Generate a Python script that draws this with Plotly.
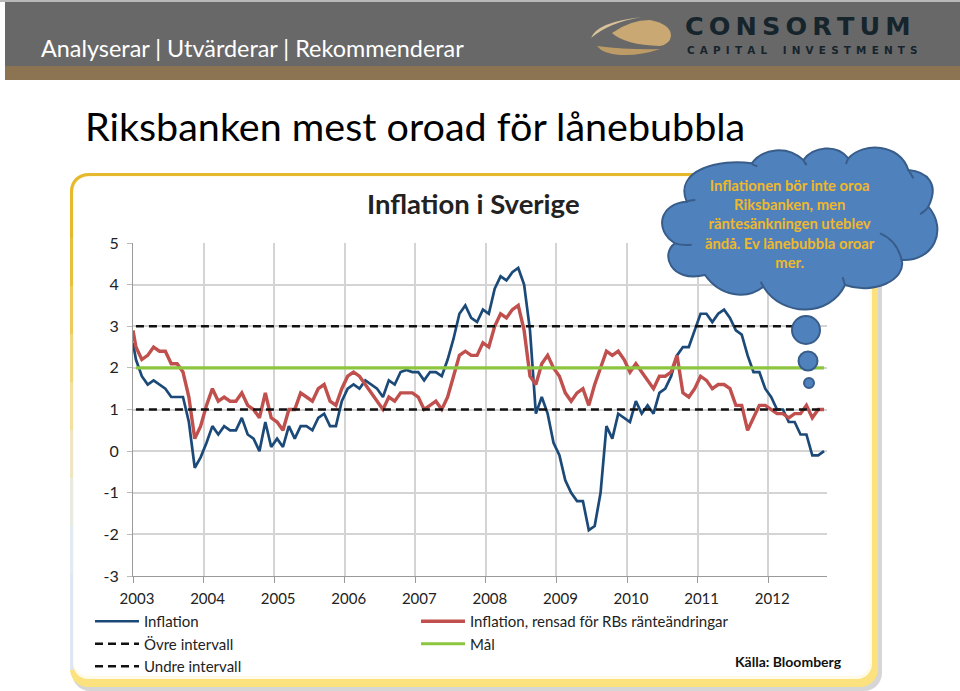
import plotly.graph_objects as go

W, H = 960, 691
month_index = [0] + [k + 0.5 for k in range(118)]
inflation = [2.6,
 2.2,1.8,1.6,1.7,1.6,1.5,1.3,1.3,1.3,.7,
 -.4,-.15,.2,.6,.4,.6,.5,.5,.8,.4,
 .3,0,.7,.1,.3,.1,.6,.3,.6,.6,
 .5,.8,.9,.6,.6,1.2,1.5,1.6,1.5,1.7,
 1.6,1.5,1.3,1.7,1.6,1.9,1.95,1.9,1.9,1.7,
 1.9,1.9,1.8,2.2,2.7,3.3,3.5,3.2,3.1,3.4,
 3.3,3.9,4.2,4.1,4.3,4.4,4.0,2.9,.9,1.3,
 .9,.2,-.1,-.7,-1.0,-1.2,-1.2,-1.9,-1.8,-1.0,
 .6,.3,.9,.8,.7,1.2,.9,1.1,.9,1.4,
 1.5,1.8,2.3,2.5,2.5,2.9,3.3,3.3,3.1,3.3,
 3.4,3.2,2.9,2.8,2.3,1.9,1.9,1.5,1.3,1.0,
 1.0,.7,.7,.4,.4,-.1,-.1,0]
inflation_rb = [2.9,
 2.5,2.2,2.3,2.5,2.4,2.4,2.1,2.1,1.9,1.3,
 .3,.6,1.1,1.5,1.2,1.3,1.2,1.2,1.4,1.1,
 1.0,.8,1.4,.8,.7,.5,1.0,1.0,1.4,1.3,
 1.2,1.5,1.6,1.2,1.1,1.5,1.8,1.9,1.8,1.6,
 1.4,1.2,1.0,1.3,1.2,1.4,1.4,1.4,1.3,1.0,
 1.1,1.2,1.0,1.3,1.8,2.3,2.4,2.3,2.3,2.6,
 2.5,3.0,3.3,3.2,3.4,3.5,2.9,1.8,1.6,2.1,
 2.3,2.0,1.8,1.4,1.2,1.4,1.5,1.1,1.6,2.0,
 2.4,2.3,2.4,2.2,1.9,2.1,1.9,1.7,1.5,1.8,
 1.8,1.9,2.3,1.4,1.3,1.5,1.8,1.7,1.5,1.6,
 1.6,1.5,1.1,1.1,.5,.8,1.1,1.1,1.0,.9,
 .9,.8,.9,.9,1.1,.8,1.0,1.0]
upper = [3] * 118
target = [2] * 118
lower = [1] * 118
year_labels = ["2003","2004","2005","2006","2007","2008","2009","2010","2011","2012"]
year_ticks = [12 * i for i in range(11)]
y_ticks = [-3,-2,-1,0,1,2,3,4,5]
y_labels = ["-3","-2","-1","0","1","2","3","4","5"]

FONT = "Lato"
def px(x): return x / W
def py(y): return 1 - y / H
def P(x, y): return f"{px(x):.5f},{py(y):.5f}"

def rrect(x0, y0, x1, y1, r):
    k = r * 0.45
    return (f"M{P(x0+r,y0)} L{P(x1-r,y0)} C{P(x1-k,y0)} {P(x1,y0+k)} {P(x1,y0+r)} "
            f"L{P(x1,y1-r)} C{P(x1,y1-k)} {P(x1-k,y1)} {P(x1-r,y1)} L{P(x0+r,y1)} "
            f"C{P(x0+k,y1)} {P(x0,y1-k)} {P(x0,y1-r)} L{P(x0,y0+r)} C{P(x0,y0+k)} {P(x0+k,y0)} {P(x0+r,y0)} Z")

shapes = []
def rect(x0, y0, x1, y1, color, layer="below"):
    shapes.append(dict(type="rect", xref="paper", yref="paper", x0=px(x0), x1=px(x1), y0=py(y0), y1=py(y1),
                       fillcolor=color, line=dict(width=0), layer=layer))
def path(d, fill=None, line=None, width=0, layer="below"):
    shapes.append(dict(type="path", xref="paper", yref="paper", path=d, fillcolor=fill or "rgba(0,0,0,0)",
                       line=dict(color=line or "rgba(0,0,0,0)", width=width), layer=layer))
def circle(cx, cy, r, fill, line, width, layer="above"):
    shapes.append(dict(type="circle", xref="paper", yref="paper", x0=px(cx-r), x1=px(cx+r), y0=py(cy+r), y1=py(cy-r),
                       fillcolor=fill, line=dict(color=line, width=width), layer=layer))

# header band
rect(0, 0, 960, 2, "#b9b9b9")
rect(5, 2, 960, 66, "#686868")
rect(5, 66, 960, 80, "#8c7352")
# logo
path(f"M{P(591,38)} Q{P(597,22)} {P(642,17)} Q{P(610,22)} {P(591,38)} Z", "#d9c39a")
path(f"M{P(612,33)} Q{P(630,20)} {P(650,20)} Q{P(671,24)} {P(671,36)} Q{P(670,44)} {P(660,46)} Q{P(625,45)} {P(612,33)} Z", "#c9a873")
path(f"M{P(597,46)} Q{P(630,50)} {P(660,49)} Q{P(640,56)} {P(620,55)} Q{P(603,54)} {P(597,46)} Z", "#bd9b67")

# card
path(rrect(72, 176, 882, 691, 18), "#d6d6d6")
path(rrect(70, 173, 878, 687, 18), "#fbe27e")
path(rrect(73, 176, 872, 679, 15), "#fffbe6")
path(rrect(74, 177, 870, 676, 14), "#ffffff")
for i, c in enumerate(["#e6b82e","#e8c040","#ecca5c","#f0d67e","#f2e09e","#eee6c0","#e8ebe0","#e2eaf3","#dde7f3","#dde7f3"]):
    y0 = 190 + i * 48
    path(f"M{P(71.5,y0)} L{P(71.5,y0+48)}", None, c, 3)
path(f"M{P(71.5,192)} C{P(71.5,181)} {P(79,174.5)} {P(90,174.5)} L{P(700,174.5)}", None, "#e6b82e", 3)

def cloud_pt(zx, zy): return P(640 + zx / 3, 140 + zy / 3)
cloud = [(140,185),
 ((60,190),(40,270),(105,310)),
 ((60,340),(90,430),(195,405)),
 ((240,470),(320,480),(370,440)),
 ((430,535),(570,530),(615,435)),
 ((700,465),(800,420),(785,360)),
 ((880,365),(925,270),(865,200)),
 ((900,130),(860,95),(805,90)),
 ((780,10),(670,5),(625,55)),
 ((590,10),(520,20),(490,60)),
 ((440,15),(370,25),(335,70)),
 ((240,55),(100,90),(140,185))]
d = "M" + cloud_pt(*cloud[0])
for a, b, c in cloud[1:]:
    d += f" C{cloud_pt(*a)} {cloud_pt(*b)} {cloud_pt(*c)}"
path(d + " Z", "#4f81bd", "#385d8a", 2, "above")
for a, b, c in [((105,310),(130,318),(155,314)), ((140,185),(145,182),(166,180)),
                ((865,200),(858,212),(840,222)), ((720,280),(770,300),(785,360)),
                ((335,70),(345,80),(352,78)), ((490,60),(495,70),(500,75)), ((625,55),(620,65),(618,72)),
                ((805,90),(815,105),(820,115)), ((370,440),(365,430),(362,425)), ((615,435),(610,420),(608,412))]:
    path(f"M{cloud_pt(*a)} Q{cloud_pt(*b)} {cloud_pt(*c)}", None, "#385d8a", 2, "above")
circle(806, 330, 14, "#4f81bd", "#385d8a", 2)
circle(808, 361, 9.5, "#4f81bd", "#385d8a", 2)
circle(809, 383, 5, "#4f81bd", "#385d8a", 2)

BLUE, RED, GREEN = "#1c4a78", "#c0504d", "#8cc63f"
fig = go.Figure()
fig.add_trace(go.Scatter(x=month_index, y=inflation, mode="lines", name="Inflation", line=dict(color=BLUE, width=2.7)))
fig.add_trace(go.Scatter(x=month_index, y=inflation_rb, mode="lines", name="Inflation, rensad för RBs ränteändringar", line=dict(color=RED, width=3.4)))
fig.add_trace(go.Scatter(x=month_index[1:], y=upper, mode="lines", name="Övre intervall", line=dict(color="#111111", width=2.4, dash="8px 5px")))
fig.add_trace(go.Scatter(x=month_index[1:], y=target, mode="lines", name="Mål", line=dict(color=GREEN, width=3.2)))
fig.add_trace(go.Scatter(x=month_index[1:], y=lower, mode="lines", name="Undre intervall", line=dict(color="#111111", width=2.4, dash="8px 5px")))

def text(x, y, s, size, color="#000000", anchor="left", bold=False, family=FONT):
    fig.add_annotation(xref="paper", yref="paper", x=px(x), y=py(y), text=f"<b>{s}</b>" if bold else s, showarrow=False,
                       xanchor=anchor, yanchor="middle", align="center" if anchor == "center" else "left",
                       font=dict(family=family, size=size, color=color))

text(39, 48, "Analyserar | Utvärderar | Rekommenderar", 23.4, "#ffffff")
text(83, 125, "Riksbanken mest oroad för lånebubbla", 39.5, "#000000")
text(473, 204, "Inflation i Sverige", 27.5, "#222222", "center", True)
text(790, 224, "Inflationen bör inte oroa<br>Riksbanken, men<br>räntesänkningen uteblev<br>ändå. Ev lånebubbla oroar<br>mer.", 14.8, "#efb82a", "center", True)
text(844, 661, "Källa: Bloomberg", 14, "#111111", "right", True)
text(683, 26, "\u2009".join("CONSORTUM"), 25.5, "#16242c", bold=True, family="DejaVu Sans")
text(685, 50, "\u2002".join("CAPITAL") + "\u2002\u2002\u2002" + "\u2002".join("INVESTMENTS"), 10.4, "#16242c", bold=True, family="DejaVu Sans")

fig.update_layout(
    width=W, height=H, autosize=False, margin=dict(l=0, r=0, t=0, b=0, autoexpand=False),
    paper_bgcolor="#ffffff", plot_bgcolor="rgba(0,0,0,0)", shapes=shapes, showlegend=True,
    font=dict(family=FONT, color="#222222"),
    legend=dict(orientation="h", x=px(90), y=py(605), xanchor="left", yanchor="top", entrywidth=267, entrywidthmode="pixels",
                itemwidth=44, font=dict(family=FONT, size=15, color="#222222"), bgcolor="rgba(0,0,0,0)", tracegroupgap=0),
    xaxis=dict(domain=[px(133), px(827)], range=[0, 118], tickmode="array", tickvals=year_ticks,
               ticktext=year_labels + [""], showgrid=True, gridcolor="#d4d4d4", gridwidth=1.5, ticks="outside", ticklen=6,
               tickcolor="#999999", showline=True, linecolor="#9a9a9a", anchor="y", zeroline=False,
               tickfont=dict(size=15, color="#222222"), ticklabelshift=4, ticklabelstandoff=3, fixedrange=True),
    yaxis=dict(domain=[py(576), py(243)], range=[-3, 5], tickmode="array", tickvals=y_ticks, ticktext=y_labels,
               showgrid=True, gridcolor="#d4d4d4", gridwidth=1.5, ticks="outside", ticklen=5, tickcolor="#bbbbbb",
               showline=True, linecolor="#9a9a9a", zeroline=False, tickfont=dict(size=16, color="#222222"),
               ticklabelstandoff=5, fixedrange=True),
)
fig.write_html("out.html", config=dict(displayModeBar=False),
               post_script="document.body.style.margin='0';document.documentElement.style.overflow='hidden';")
